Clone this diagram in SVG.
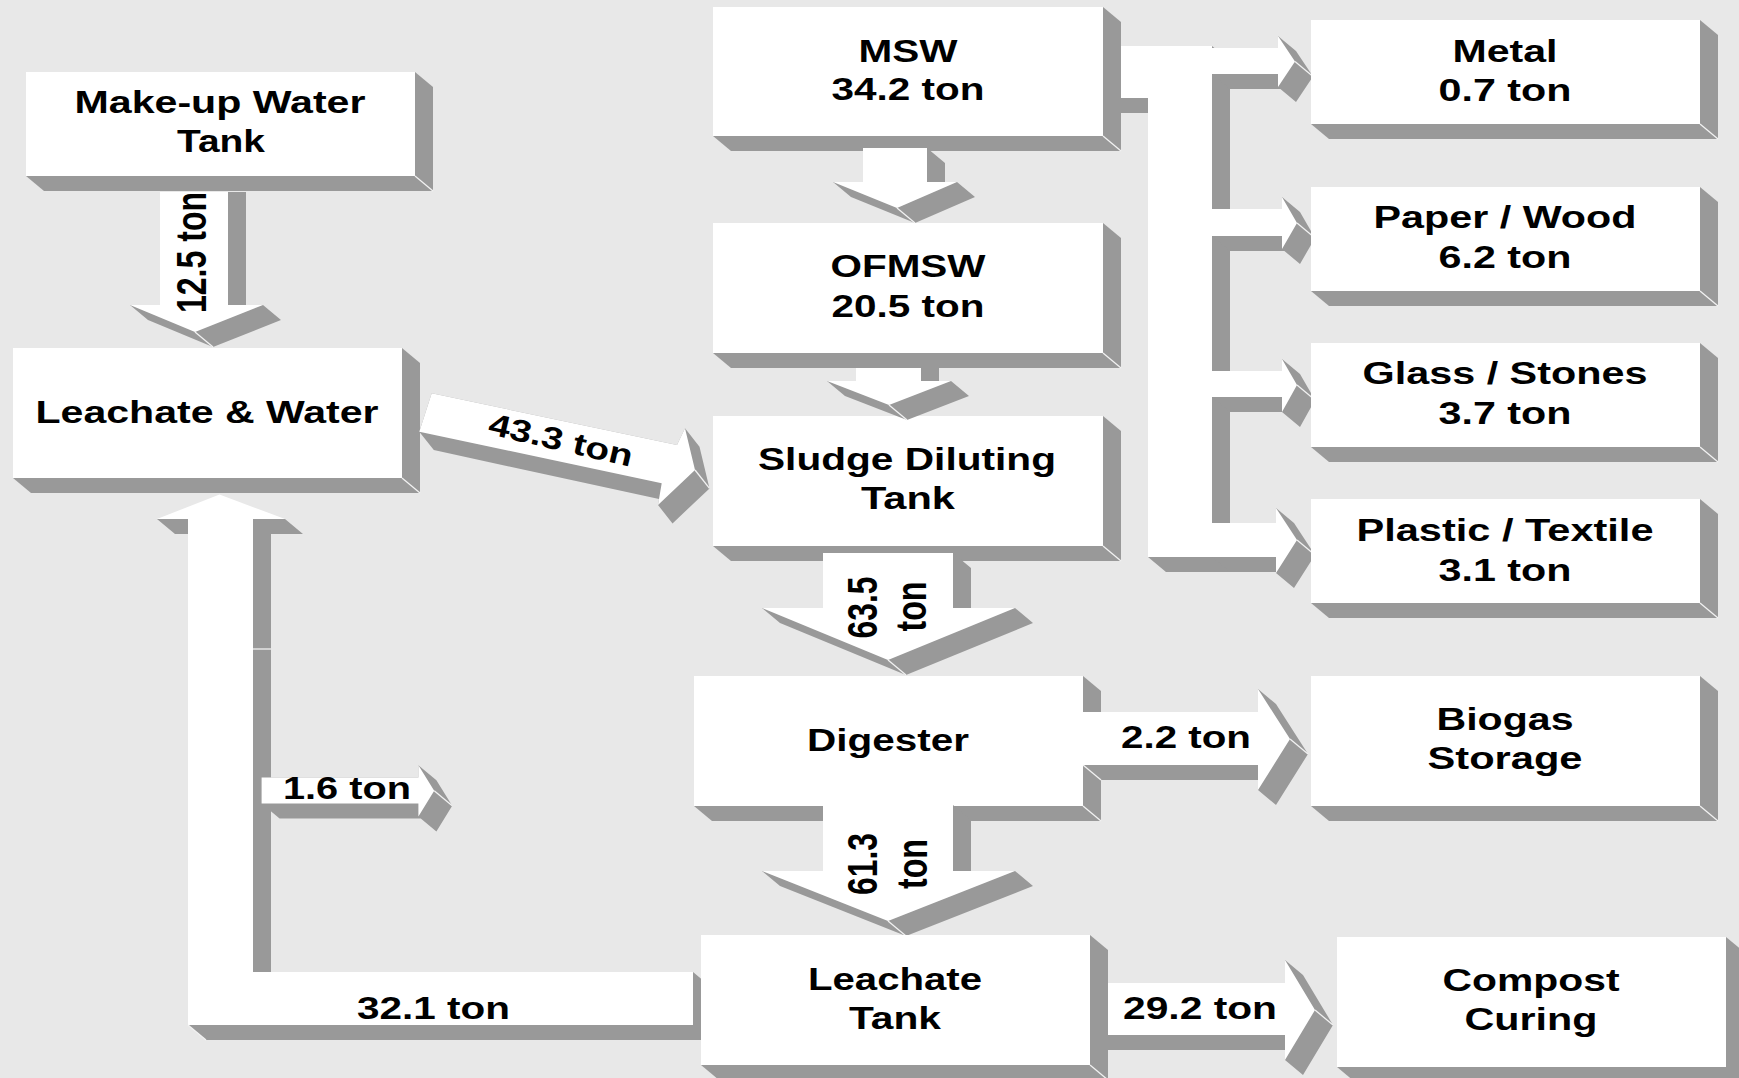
<svg xmlns="http://www.w3.org/2000/svg" width="1739" height="1078" viewBox="0 0 1739 1078">
<style>
.g{fill:#999999}
.w{fill:#ffffff}
.cr{stroke:#f2f2f2;stroke-width:1.3;fill:none}
text{font-family:"Liberation Sans",Arial,sans-serif;font-weight:bold;font-size:31px;fill:#000000;text-anchor:middle}
</style>
<rect width="1739" height="1078" fill="#e8e8e8"/>

<g id="nodes-back">
<g id="makeup-water-tank">
<polygon class="g" points="26,72 415,72 433,87 433,191 44,191 26,176"/>
<rect class="w" x="26" y="72" width="389" height="104"/>
<line class="cr" x1="415" y1="176" x2="433" y2="191"/>
<text x="220" y="113" textLength="291" lengthAdjust="spacingAndGlyphs">Make-up Water</text>
<text x="221" y="152" textLength="88" lengthAdjust="spacingAndGlyphs">Tank</text>
</g>
<g id="leachate-water">
<polygon class="g" points="13,348 402,348 420,363 420,493 31,493 13,478"/>
<rect class="w" x="13" y="348" width="389" height="130"/>
<line class="cr" x1="402" y1="478" x2="420" y2="493"/>
<text x="207" y="423" textLength="343" lengthAdjust="spacingAndGlyphs">Leachate &amp; Water</text>
</g>
<g id="msw">
<polygon class="g" points="713,7 1103,7 1121,22 1121,151 731,151 713,136"/>
<rect class="w" x="713" y="7" width="390" height="129"/>
<line class="cr" x1="1103" y1="136" x2="1121" y2="151"/>
<text x="908" y="62" textLength="99" lengthAdjust="spacingAndGlyphs">MSW</text>
<text x="908" y="100" textLength="153" lengthAdjust="spacingAndGlyphs">34.2 ton</text>
</g>
<g id="ofmsw">
<polygon class="g" points="713,223 1103,223 1121,238 1121,368 731,368 713,353"/>
<rect class="w" x="713" y="223" width="390" height="130"/>
<line class="cr" x1="1103" y1="353" x2="1121" y2="368"/>
<text x="908" y="277" textLength="155" lengthAdjust="spacingAndGlyphs">OFMSW</text>
<text x="908" y="317" textLength="153" lengthAdjust="spacingAndGlyphs">20.5 ton</text>
</g>
<g id="sludge-diluting-tank">
<polygon class="g" points="713,416 1103,416 1121,431 1121,561 731,561 713,546"/>
<rect class="w" x="713" y="416" width="390" height="130"/>
<line class="cr" x1="1103" y1="546" x2="1121" y2="561"/>
<text x="907" y="470" textLength="298" lengthAdjust="spacingAndGlyphs">Sludge Diluting</text>
<text x="908" y="509" textLength="94" lengthAdjust="spacingAndGlyphs">Tank</text>
</g>
<g id="digester">
<polygon class="g" points="694,676 1083,676 1101,691 1101,821 712,821 694,806"/>
<rect class="w" x="694" y="676" width="389" height="130"/>
<line class="cr" x1="1083" y1="806" x2="1101" y2="821"/>
<text x="888" y="751" textLength="162" lengthAdjust="spacingAndGlyphs">Digester</text>
</g>
</g>

<g id="connectors">
<g id="msw-to-ofmsw">
<polygon class="g" points="863,148 927,148 945,163 945,182 957,182 975,197 915,223 851,197 833,182 863,182"/>
<polygon class="w" points="863,148 927,148 927,182 957,182 897,208 833,182 863,182"/>
<line class="cr" x1="897" y1="208" x2="915" y2="223"/>
</g>
<g id="ofmsw-to-sludge">
<polygon class="g" points="856,368 939,368 939,381 951,381 969,396 907,420 845,396 827,381 856,381"/>
<polygon class="w" points="856,368 921,368 921,381 951,381 889,405 827,381 856,381"/>
<line class="cr" x1="889" y1="405" x2="907" y2="420"/>
</g>
<g id="sludge-to-digester">
<polygon class="g" points="823,553 953,553 971,568 971,608 1015,608 1033,623 906,675 780,623 762,608 823,608"/>
<polygon class="w" points="823,553 953,553 953,608 1015,608 888,660 762,608 823,608"/>
<line class="cr" x1="888" y1="660" x2="906" y2="675"/>
<text transform="translate(862,607.5) rotate(-90) scale(1,1.4)" y="11" textLength="62" lengthAdjust="spacingAndGlyphs">63.5</text>
<text transform="translate(911,606.5) rotate(-90) scale(1,1.4)" y="11" textLength="50" lengthAdjust="spacingAndGlyphs">ton</text>
</g>
<g id="digester-to-leachate-tank">
<polygon class="g" points="823,805 953,805 971,820 971,871 1015,871 1033,886 906,936 780,886 762,871 823,871"/>
<polygon class="w" points="823,800 953,800 953,871 1015,871 888,921 762,871 823,871"/>
<line class="cr" x1="888" y1="921" x2="906" y2="936"/>
<text transform="translate(862,864) rotate(-90) scale(1,1.4)" y="11" textLength="62" lengthAdjust="spacingAndGlyphs">61.3</text>
<text transform="translate(912,864) rotate(-90) scale(1,1.4)" y="11" textLength="50" lengthAdjust="spacingAndGlyphs">ton</text>
</g>
<g id="makeup-to-leachate-water">
<polygon class="g" points="160,192 246,192 246,305 263,305 281,320 213,347 148,320 130,305 160,305"/>
<polygon class="w" points="160,192 228,192 228,305 263,305 195,332 130,305 160,305"/>
<line class="cr" x1="195" y1="332" x2="213" y2="347"/>
<text transform="translate(191,252.5) rotate(-90) scale(1,1.4)" y="11" textLength="121" lengthAdjust="spacingAndGlyphs">12.5 ton</text>
</g>
<g id="leachate-water-to-sludge">
<polygon class="g" points="431.7,393.3 677,445 685,428.3 699.5,446.7 709.5,488.4 672.5,523.4 658,505 659,499 433.8,450.1 419.3,431.7"/>
<polygon class="w" points="431.7,393.3 677,445 685,428.3 695,470 658,505 661.7,483.3 419.3,431.7"/>
<line class="cr" x1="695" y1="470" x2="709.5" y2="488.4"/>
<text transform="translate(558.5,450.3) rotate(13)" textLength="147" lengthAdjust="spacingAndGlyphs">43.3 ton</text>
</g>
<g id="digester-to-biogas">
<polygon class="g" points="1083,712 1258,712 1258,689 1276,704 1308,754 1276,805 1258,790 1258,780 1101,780 1083,765"/>
<polygon class="w" points="1083,712 1258,712 1258,689 1290,739 1258,790 1258,765 1083,765"/>
<line class="cr" x1="1290" y1="739" x2="1308" y2="754"/>
<line class="cr" x1="1083" y1="765" x2="1101" y2="780"/>
<text x="1186" y="748" textLength="130" lengthAdjust="spacingAndGlyphs">2.2 ton</text>
</g>
<g id="leachate-tank-to-compost">
<polygon class="g" points="1108,983 1285,983 1285,960 1303,975 1333,1025 1303,1075 1285,1060 1285,1050 1108,1050 1108,1035"/>
<polygon class="w" points="1108,983 1285,983 1285,960 1315,1010 1285,1060 1285,1035 1108,1035"/>
<line class="cr" x1="1315" y1="1010" x2="1333" y2="1025"/>
<text x="1200" y="1019" textLength="154" lengthAdjust="spacingAndGlyphs">29.2 ton</text>
</g>
<g id="msw-splitter">
<polygon class="g" points="1121,46 1212,46 1230,61 1230,572 1166,572 1148,557 1148,113 1121,113"/>
<polygon class="w" points="1121,46 1212,46 1212,557 1148,557 1148,98 1121,98"/>
</g>
<g id="to-metal">
<polygon class="g" points="1212,48 1278,48 1278,36 1296,51 1313,76.5 1296,102 1280.4,89 1230,89 1212,74"/>
<polygon class="w" points="1212,48 1278,48 1278,36 1295,61.5 1278,87 1278,74 1212,74"/>
<line class="cr" x1="1295" y1="61.5" x2="1313" y2="76.5"/>
</g>
<g id="to-paper">
<polygon class="g" points="1212,209 1282,209 1282,197 1300,212 1315,238 1300,264 1284.4,251 1230,251 1212,236"/>
<polygon class="w" points="1212,209 1282,209 1282,197 1297,223 1282,249 1282,236 1212,236"/>
<line class="cr" x1="1297" y1="223" x2="1315" y2="238"/>
</g>
<g id="to-glass">
<polygon class="g" points="1212,371 1282,371 1282,359 1300,374 1315,400 1300,427 1282,412 1230,412 1212,397"/>
<polygon class="w" points="1212,371 1282,371 1282,359 1297,385 1282,412 1282,397 1212,397"/>
<line class="cr" x1="1297" y1="385" x2="1315" y2="400"/>
</g>
<g id="to-plastic">
<polygon class="g" points="1212,523 1276,523 1276,508 1294,523 1315,555 1294,588 1276,573 1276,572 1230,572 1212,557"/>
<polygon class="w" points="1212,523 1276,523 1276,508 1297,540 1276,573 1276,557 1212,557"/>
<line class="cr" x1="1297" y1="540" x2="1315" y2="555"/>
</g>
<g id="leachate-tank-to-leachate-water">
<polygon class="g" points="157,519 285,519 303,534 271,534 271,972 693,972 711,987 711,1040 206,1040 188,1025 188,534 175,534"/>
<polygon class="w" points="219.5,494.5 285,519 253,519 253,972 693,972 693,1025 188,1025 188,519 157,519"/>
<line class="cr" x1="253" y1="649" x2="271" y2="649"/>
<line class="cr" x1="188" y1="1025" x2="206" y2="1040"/>
<text x="433.5" y="1018.5" textLength="153" lengthAdjust="spacingAndGlyphs">32.1 ton</text>
</g>
<g id="loop-side-output">
<polygon class="g" points="261.6,777.5 418.4,777.5 418.4,765.3 436.4,780.3 452.2,805.8 436.4,831.4 420.8,818.4 279.6,818.4 261.6,803.4"/>
<polygon class="w" points="261.6,777.5 418.4,777.5 418.4,765.3 434.2,790.8 418.4,816.4 418.4,803.4 261.6,803.4"/>
<line class="cr" x1="434.2" y1="790.8" x2="452.2" y2="805.8"/>
<text x="347" y="798.5" textLength="128" lengthAdjust="spacingAndGlyphs">1.6 ton</text>
</g>
</g>

<g id="nodes-front">
<g id="metal">
<polygon class="g" points="1311,20 1700,20 1718,35 1718,139 1329,139 1311,124"/>
<rect class="w" x="1311" y="20" width="389" height="104"/>
<line class="cr" x1="1700" y1="124" x2="1718" y2="139"/>
<text x="1505" y="62" textLength="105" lengthAdjust="spacingAndGlyphs">Metal</text>
<text x="1505" y="101" textLength="133" lengthAdjust="spacingAndGlyphs">0.7 ton</text>
</g>
<g id="paper-wood">
<polygon class="g" points="1311,187 1700,187 1718,202 1718,306 1329,306 1311,291"/>
<rect class="w" x="1311" y="187" width="389" height="104"/>
<line class="cr" x1="1700" y1="291" x2="1718" y2="306"/>
<text x="1505" y="228" textLength="263" lengthAdjust="spacingAndGlyphs">Paper / Wood</text>
<text x="1505" y="268" textLength="133" lengthAdjust="spacingAndGlyphs">6.2 ton</text>
</g>
<g id="glass-stones">
<polygon class="g" points="1311,343 1700,343 1718,358 1718,462 1329,462 1311,447"/>
<rect class="w" x="1311" y="343" width="389" height="104"/>
<line class="cr" x1="1700" y1="447" x2="1718" y2="462"/>
<text x="1505" y="384" textLength="285" lengthAdjust="spacingAndGlyphs">Glass / Stones</text>
<text x="1505" y="424" textLength="133" lengthAdjust="spacingAndGlyphs">3.7 ton</text>
</g>
<g id="plastic-textile">
<polygon class="g" points="1311,499 1700,499 1718,514 1718,618 1329,618 1311,603"/>
<rect class="w" x="1311" y="499" width="389" height="104"/>
<line class="cr" x1="1700" y1="603" x2="1718" y2="618"/>
<text x="1505" y="541" textLength="297" lengthAdjust="spacingAndGlyphs">Plastic / Textile</text>
<text x="1505" y="581" textLength="133" lengthAdjust="spacingAndGlyphs">3.1 ton</text>
</g>
<g id="biogas-storage">
<polygon class="g" points="1311,676 1700,676 1718,691 1718,821 1329,821 1311,806"/>
<rect class="w" x="1311" y="676" width="389" height="130"/>
<line class="cr" x1="1700" y1="806" x2="1718" y2="821"/>
<text x="1505" y="730" textLength="137" lengthAdjust="spacingAndGlyphs">Biogas</text>
<text x="1505" y="769" textLength="155" lengthAdjust="spacingAndGlyphs">Storage</text>
</g>
<g id="leachate-tank">
<polygon class="g" points="701,935 1090,935 1108,950 1108,1080 719,1080 701,1065"/>
<rect class="w" x="701" y="935" width="389" height="130"/>
<line class="cr" x1="1090" y1="1065" x2="1108" y2="1080"/>
<text x="895" y="990" textLength="174" lengthAdjust="spacingAndGlyphs">Leachate</text>
<text x="895" y="1029" textLength="92" lengthAdjust="spacingAndGlyphs">Tank</text>
</g>
<g id="compost-curing">
<polygon class="g" points="1337,937 1726,937 1744,952 1744,1082 1355,1082 1337,1067"/>
<rect class="w" x="1337" y="937" width="389" height="130"/>
<text x="1531" y="991" textLength="177" lengthAdjust="spacingAndGlyphs">Compost</text>
<text x="1531" y="1030" textLength="133" lengthAdjust="spacingAndGlyphs">Curing</text>
</g>
</g>
</svg>
